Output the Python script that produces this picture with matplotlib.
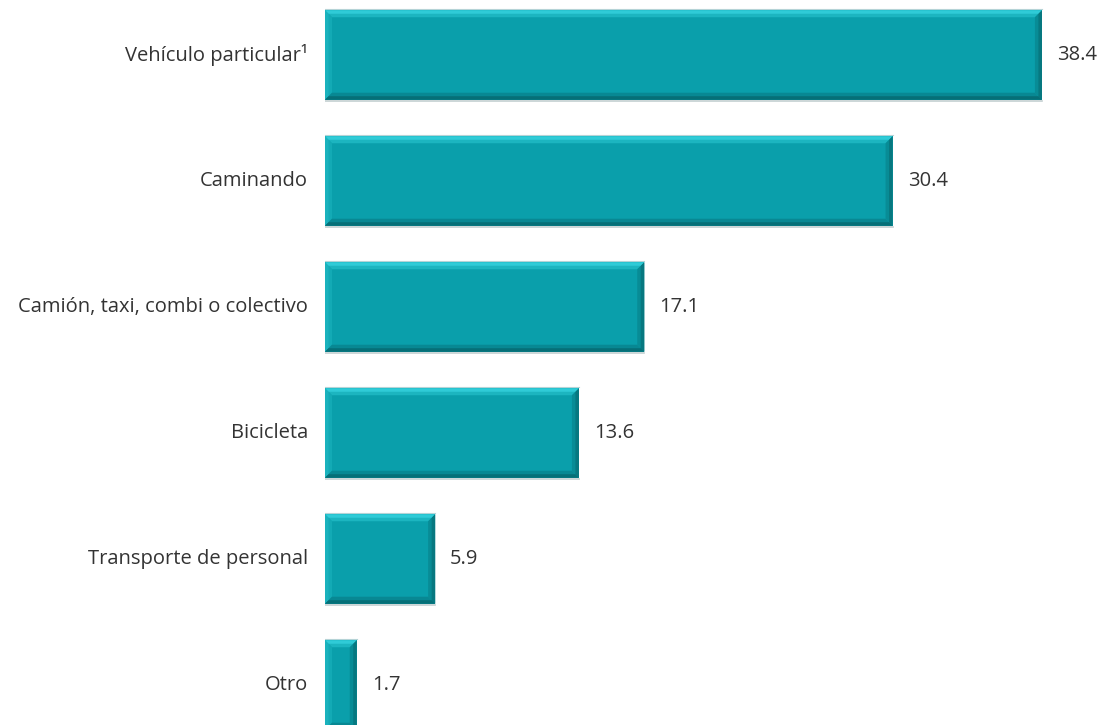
import numpy as np
import matplotlib.pyplot as plt
from matplotlib.patches import Polygon

categories = ["Vehículo particular¹", "Caminando", "Camión, taxi, combi o colectivo",
              "Bicicleta", "Transporte de personal", "Otro"]
values = [38.4, 30.4, 17.1, 13.6, 5.9, 1.7]

plt.rcParams['font.family'] = ['Open Sans', 'DejaVu Sans']

fig = plt.figure(figsize=(11.02, 7.25), dpi=100)
ax = fig.add_axes([325 / 1102, 0, 777 / 1102, 1])

ypos = np.arange(len(categories))
bar_h = 0.71
main = '#0a9fab'
bars = ax.barh(ypos, values, height=bar_h, color=main, edgecolor='none', zorder=2)

px_x = 1 / 18.67
px_y = 1 / 126
ax.set_xlim(0, 777 * px_x)
ax.set_ylim((725 - 55) * px_y, -55 * px_y)


def bevel(x0, y0, x1, y1, w, cols, z):
    bx, by = w * px_x, w * px_y
    top = [(x0, y0), (x1, y0), (x1 - bx, y0 + by), (x0 + bx, y0 + by)]
    bot = [(x0, y1), (x1, y1), (x1 - bx, y1 - by), (x0 + bx, y1 - by)]
    left = [(x0, y0), (x0 + bx, y0 + by), (x0 + bx, y1 - by), (x0, y1)]
    right = [(x1, y0), (x1 - bx, y0 + by), (x1 - bx, y1 - by), (x1, y1)]
    for pts, c in zip([top, left, right, bot], cols):
        ax.add_patch(Polygon(pts, closed=True, color=c, lw=0, zorder=z))


for b in bars:
    x0, y0 = b.get_x(), b.get_y()
    x1, y1 = x0 + b.get_width(), y0 + b.get_height()
    # inner, softer band
    bevel(x0, y0, x1, y1, 7, ['#1cb5c0', '#13aab5', '#088c96', '#088893'], 3)
    # outer, stronger band
    bevel(x0, y0, x1, y1, 3.5, ['#2fcbd7', '#1ab2bd', '#077880', '#066f77'], 4)
    # soft shadow / outline
    ax.plot([x0, x1], [y1 + 1.5 * px_y] * 2, color='#c3cfd1', lw=1.2, zorder=1)
    ax.plot([x0, x1], [y0 - 0.8 * px_y] * 2, color='#b5d3d6', lw=0.8, zorder=1)

for y, v, lab in zip(ypos, values, categories):
    ax.text(v + 15 * px_x, y, f"{v:.1f}", va='center', ha='left', fontsize=14.5, color='#333333')
    ax.text(-17 * px_x, y, lab, va='center', ha='right', fontsize=14.5, color='#333333')

ax.axis('off')
fig.savefig('out.png', dpi=100)
